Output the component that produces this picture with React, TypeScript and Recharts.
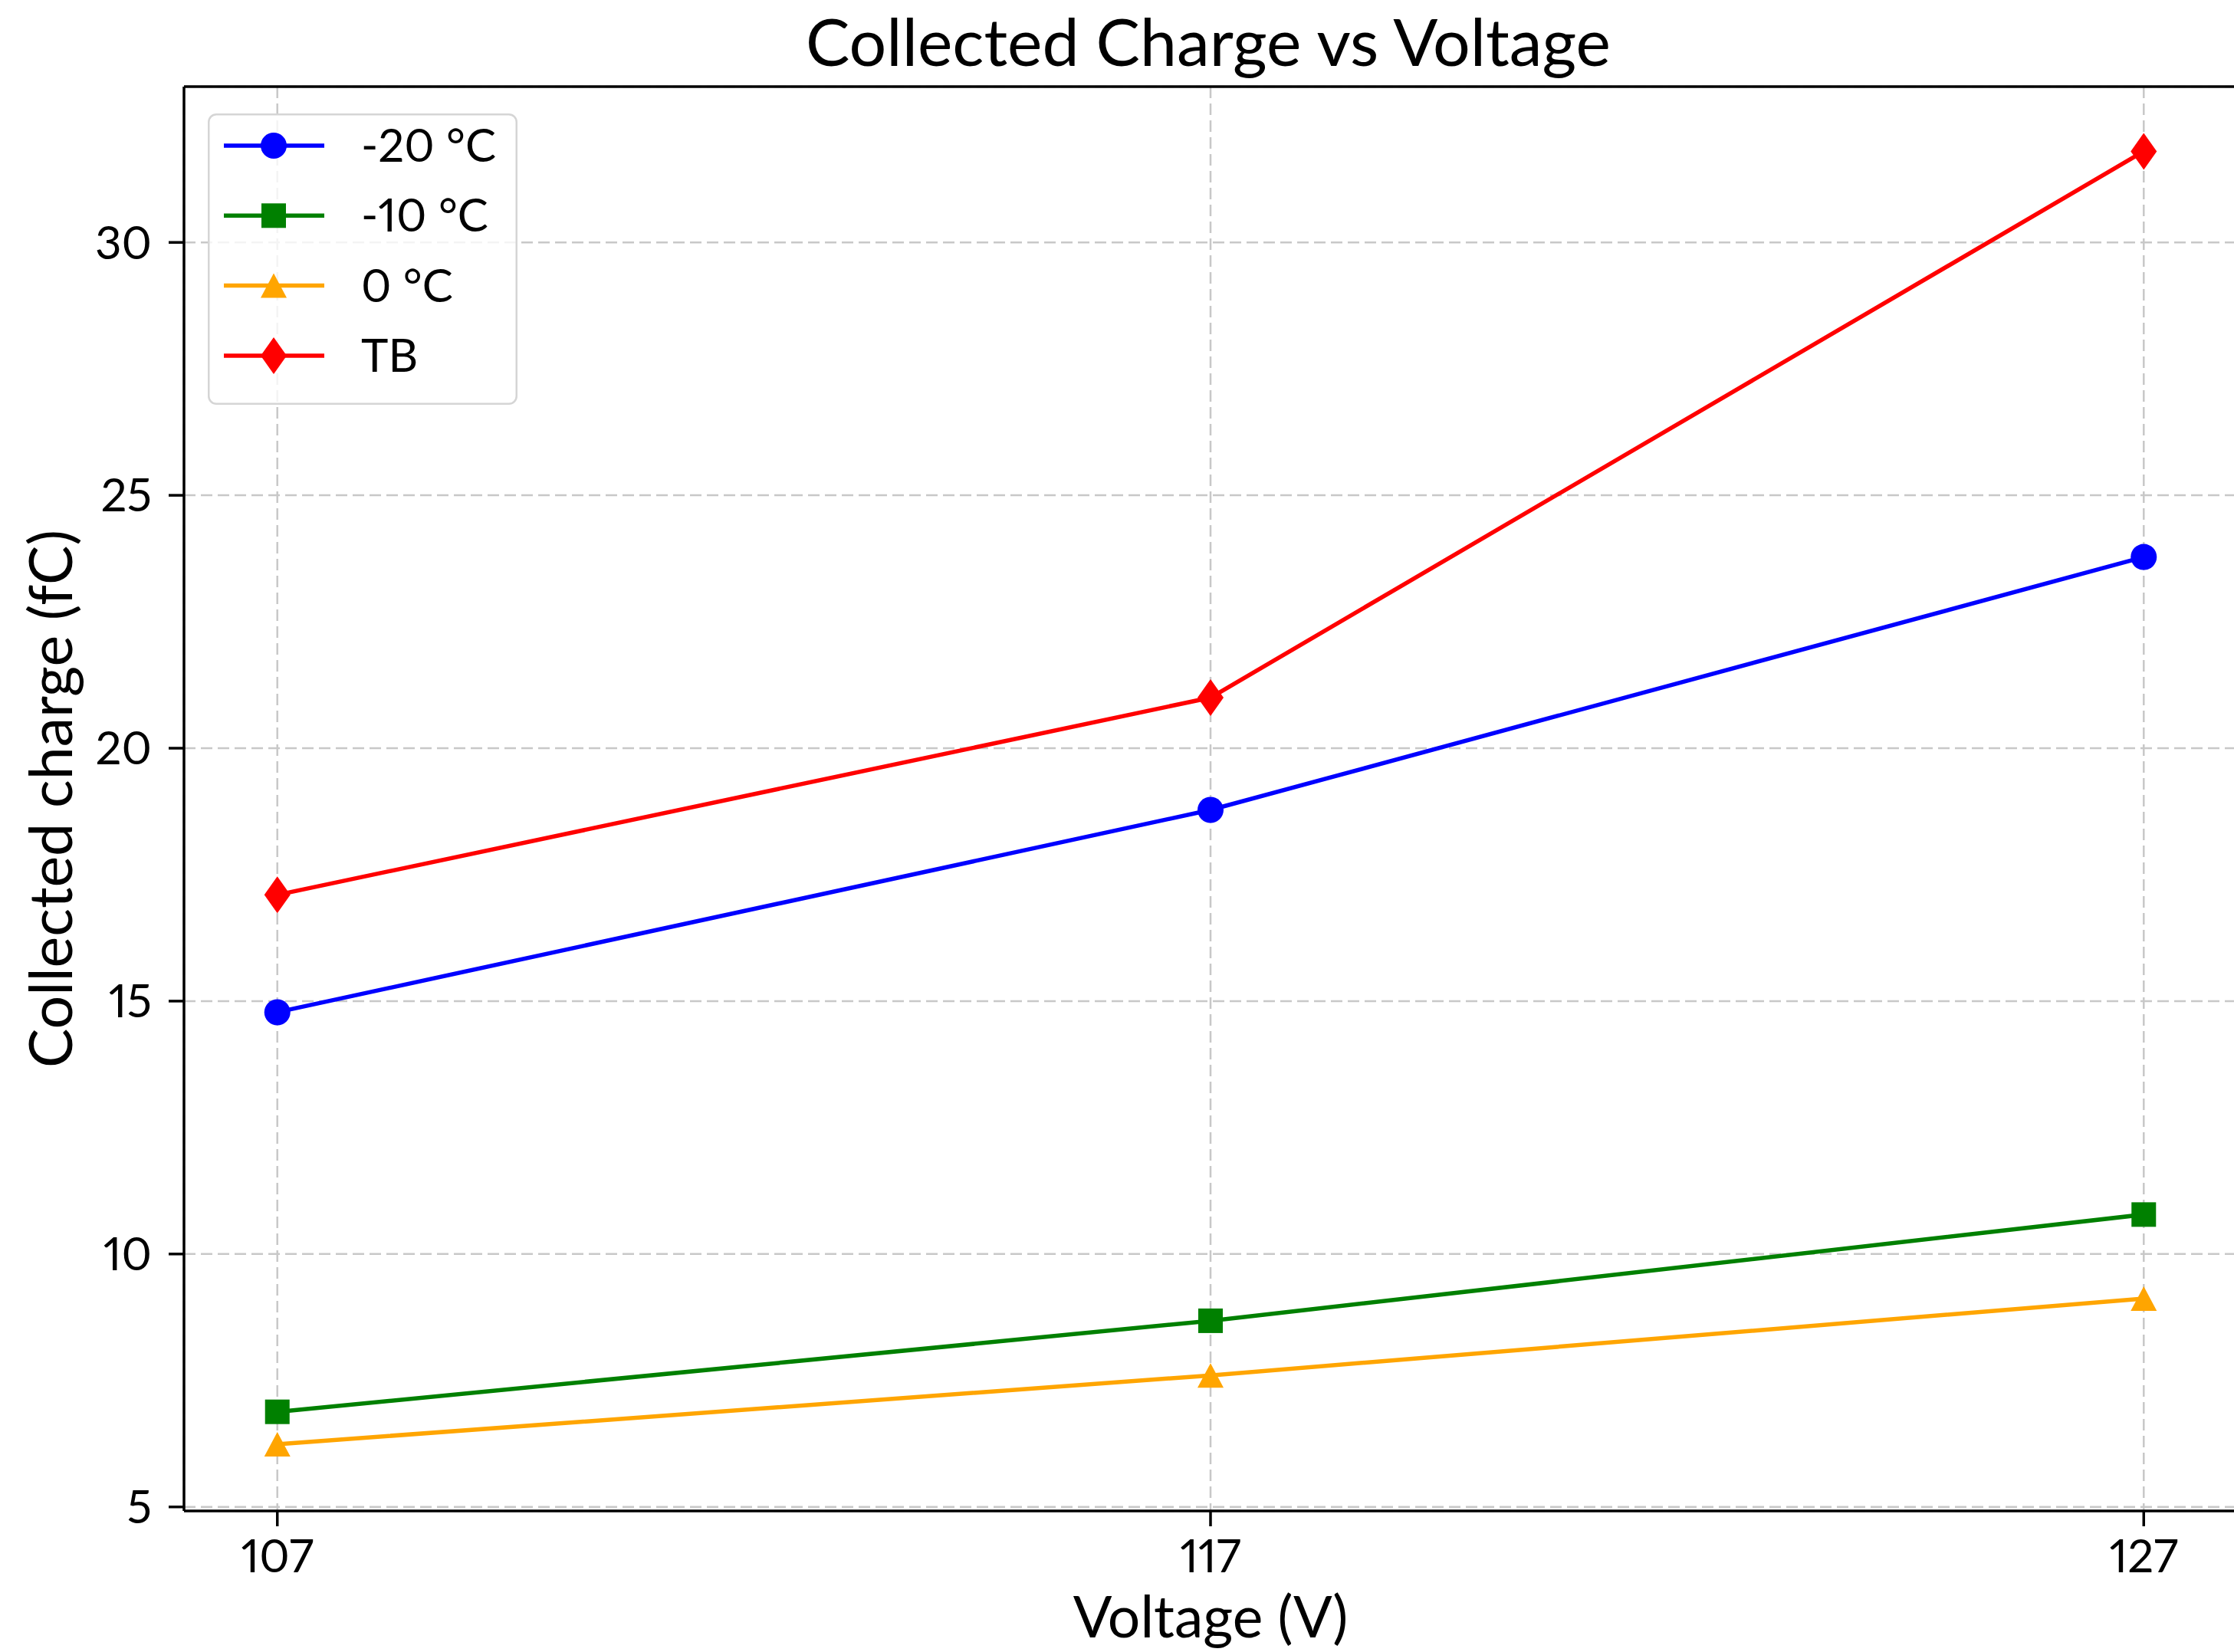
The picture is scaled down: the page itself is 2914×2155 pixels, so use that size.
import React from 'react';
import { LineChart, Line, XAxis, YAxis, CartesianGrid, ReferenceLine, Legend, Label } from 'recharts';

// ---- data ----
const VOLTAGES = [107, 117, 127];
const CHARGE_M20 = [14.78, 18.78, 23.78];
const CHARGE_M10 = [6.88, 8.68, 10.78];
const CHARGE_0 = [6.24, 7.6, 9.12];
const CHARGE_TB = [17.1, 21.0, 31.8];
const SERIES_NAMES = ['-20 °C', '-10 °C', '0 °C', 'TB'];
const X_TICKS = [107, 117, 127];
const Y_TICKS = [5, 10, 15, 20, 25, 30];
const X_DOMAIN = [106, 128];
const Y_DOMAIN = [4.92, 33.08];
const TITLE = 'Collected Charge vs Voltage';
const X_LABEL = 'Voltage (V)';
const Y_LABEL = 'Collected charge (fC)';

const FONT = 'Lato, "Open Sans", sans-serif';

const data = VOLTAGES.map((v, i) => ({
  v,
  m20: CHARGE_M20[i],
  m10: CHARGE_M10[i],
  zero: CHARGE_0[i],
  tb: CHARGE_TB[i],
}));

const SERIES = [
  { key: 'm20', name: SERIES_NAMES[0], color: '#0000ff', shape: 'circle' },
  { key: 'm10', name: SERIES_NAMES[1], color: '#008000', shape: 'square' },
  { key: 'zero', name: SERIES_NAMES[2], color: '#ffa500', shape: 'triangle' },
  { key: 'tb', name: SERIES_NAMES[3], color: '#ff0000', shape: 'diamond' },
];

function Marker({ shape, cx, cy, color }: { shape: string; cx: number; cy: number; color: string }) {
  if (cx == null || cy == null) return <g />;
  switch (shape) {
    case 'circle':
      return <circle cx={cx} cy={cy} r={17} fill={color} />;
    case 'square':
      return <rect x={cx - 16} y={cy - 16} width={32} height={32} fill={color} />;
    case 'triangle':
      return <polygon points={`${cx},${cy - 16} ${cx - 17},${cy + 16} ${cx + 17},${cy + 16}`} fill={color} />;
    default:
      return <polygon points={`${cx},${cy - 24} ${cx + 17},${cy} ${cx},${cy + 24} ${cx - 17},${cy}`} fill={color} />;
  }
}

function LegendBox() {
  return (
    <svg width={404} height={380} style={{ display: 'block' }}>
      <rect x={1.25} y={1.25} width={401.5} height={377.5} rx={10} ry={10}
        fill="rgba(255,255,255,0.8)" stroke="#d5d5d5" strokeWidth={2.5} />
      {SERIES.map((s, i) => {
        const cy = 42 + i * 91.3;
        return (
          <g key={s.key}>
            <line x1={21} x2={152} y1={cy} y2={cy} stroke={s.color} strokeWidth={5.5} />
            <Marker shape={s.shape} cx={86} cy={cy} color={s.color} />
            <text x={200} y={cy + 21} fontSize={60} fontFamily={FONT} fill="#000">{s.name}</text>
          </g>
        );
      })}
    </svg>
  );
}

export default function App() {
  const tickStyle = { fontSize: 60, fill: '#000', fontFamily: FONT };
  return (
    <div style={{ position: 'absolute', left: 0, top: 0, width: 2914, height: 2155, overflow: 'hidden', background: '#fff', fontFamily: FONT, fontVariantNumeric: 'proportional-nums' }}>
      <LineChart width={2920} height={2155} data={data} margin={{ top: 113, right: 2, bottom: 0, left: 0 }}>
        <CartesianGrid stroke="#c8c8c8" strokeDasharray="15 7" strokeWidth={2.5} />
        <XAxis
          dataKey="v"
          type="number"
          domain={X_DOMAIN}
          ticks={X_TICKS}
          interval={0}
          allowDataOverflow
          height={184}
          tickSize={20}
          tickMargin={17}
          axisLine={{ stroke: '#000', strokeWidth: 3.5 }}
          tickLine={{ stroke: '#000', strokeWidth: 3.5 }}
          tick={tickStyle}
        >
          <Label value={X_LABEL} position="insideBottom" offset={19} fontSize={75} fontFamily={FONT} fill="#000" />
        </XAxis>
        <YAxis
          type="number"
          domain={Y_DOMAIN}
          ticks={Y_TICKS}
          interval={0}
          allowDataOverflow
          width={240}
          tickSize={20}
          tickMargin={22}
          axisLine={{ stroke: '#000', strokeWidth: 3.5 }}
          tickLine={{ stroke: '#000', strokeWidth: 3.5 }}
          tick={tickStyle}
        >
          <Label
            content={(props: any) => {
              const vb = props.viewBox || { x: 0, y: 113, width: 240, height: 1858 };
              const cy = vb.y + vb.height / 2;
              const x = 94;
              return (
                <text x={x} y={cy} transform={`rotate(-90, ${x}, ${cy})`} textAnchor="middle"
                  fontSize={77} fontFamily={FONT} fill="#000">{Y_LABEL}</text>
              );
            }}
          />
        </YAxis>
        <ReferenceLine y={Y_DOMAIN[1]} stroke="#000" strokeWidth={3.5} ifOverflow="visible" />
        <ReferenceLine x={X_DOMAIN[1]} stroke="#000" strokeWidth={3.5} ifOverflow="visible" />
        {SERIES.map((s) => (
          <Line
            key={s.key}
            type="linear"
            dataKey={s.key}
            name={s.name}
            stroke={s.color}
            strokeWidth={5.5}
            isAnimationActive={false}
            activeDot={false}
            dot={(p: any) => (
              <Marker key={`${s.key}-${p.index}`} shape={s.shape} cx={p.cx} cy={p.cy} color={s.color} />
            )}
          />
        ))}
        <Legend
          layout="horizontal"
          verticalAlign="middle"
          align="center"
          wrapperStyle={{ left: 271, top: 148, width: 404, height: 380 }}
          content={() => <LegendBox />}
        />
      </LineChart>
      <svg width={2914} height={112} style={{ position: 'absolute', left: 0, top: 0, pointerEvents: 'none' }}>
        <text x={1576} y={86} textAnchor="middle" fontSize={86} fontFamily={FONT} fill="#000">{TITLE}</text>
      </svg>
    </div>
  );
}
